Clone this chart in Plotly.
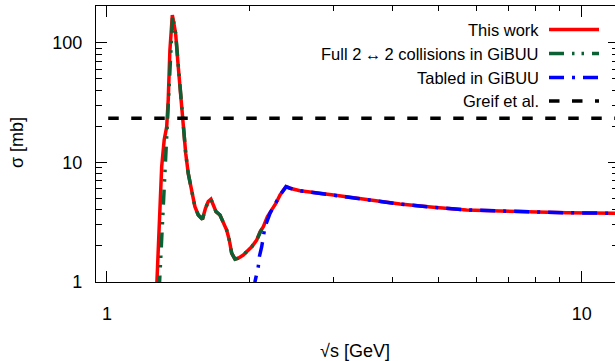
import math
import plotly.graph_objects as go

# ---------------- data ----------------
red_x = [1.272, 1.282, 1.293, 1.304, 1.320, 1.336, 1.346, 1.357, 1.373, 1.395, 1.413, 1.432,
         1.448, 1.465, 1.483, 1.508, 1.532, 1.557, 1.589, 1.612, 1.634, 1.656, 1.675, 1.697,
         1.730, 1.758, 1.787, 1.810, 1.831, 1.861, 1.891, 1.937, 1.985, 2.018, 2.067, 2.101,
         2.135, 2.177, 2.223, 2.270, 2.315, 2.383, 2.430, 2.550, 3.00, 3.525, 4.14, 4.87,
         5.72, 6.73, 7.91, 9.30, 11.75, 12.0]
red_y = [0.85, 1.85, 4.26, 9.19, 15.4, 19.8, 33.2, 86.7, 170, 120, 62.9, 33.2,
         17.5, 11.9, 8.09, 5.87, 4.26, 3.63, 3.34, 4.1, 4.69, 4.91, 4.40, 3.87,
         3.63, 3.09, 2.72, 2.24, 1.74, 1.55, 1.58, 1.68, 1.85, 1.97, 2.24, 2.63,
         2.90, 3.51, 4.0, 4.55, 5.33, 6.26, 6.07, 5.79, 5.33, 4.87, 4.48, 4.21,
         4.0, 3.92, 3.85, 3.79, 3.75, 3.74]

green_x = [1.288, 1.304, 1.314, 1.325, 1.336, 1.346, 1.357, 1.369, 1.375, 1.395, 1.413, 1.432,
           1.448, 1.465, 1.483, 1.508, 1.532, 1.557, 1.589, 1.612, 1.634, 1.656, 1.675, 1.697,
           1.730, 1.758, 1.787, 1.810, 1.831, 1.861, 1.891, 1.937, 1.985, 2.018, 2.067, 2.101,
           2.12]
green_y = [0.85, 2.24, 4.84, 9.19, 14.4, 24.0, 46.0, 120, 168, 120, 62.9, 33.2,
           17.5, 11.9, 8.09, 5.87, 4.26, 3.63, 3.34, 4.1, 4.69, 4.91, 4.40, 3.87,
           3.63, 3.09, 2.72, 2.24, 1.74, 1.55, 1.58, 1.68, 1.85, 1.97, 2.24, 2.63,
           2.77]

blue_x = [2.026, 2.050, 2.083, 2.094, 2.118, 2.152, 2.205, 2.259, 2.315, 2.383, 2.430, 2.550,
          3.00, 3.525, 4.14, 4.87, 5.72, 6.73, 7.91, 9.30, 11.75, 12.0]
blue_y = [0.857, 1.006, 1.342, 1.627, 1.972, 2.897, 3.749, 4.546, 5.33, 6.26, 6.07, 5.79,
          5.33, 4.87, 4.48, 4.21, 4.0, 3.92, 3.85, 3.79, 3.75, 3.74]

greif_x = [0.9, 13.0]
greif_y = [23.3, 23.3]

legend_labels = ["This work", "Full 2\u2009\u2194\u20092 collisions in GiBUU", "Tabled in GiBUU", "Greif et al."]
x_tick_vals = [1, 10]
x_tick_text = ["1", "10"]
y_tick_vals = [1, 10, 100]
y_tick_text = ["1", "10", "100"]

# ---------------- styles ----------------
RED = "#ff0000"
GREEN = "#0b6133"
BLUE = "#0000ff"
BLACK = "#000000"
GREEN_DASH = "15px,8px,2.5px,7px,2.5px,8px"
BLUE_DASH = "15px,8px,3px,8px"
BLACK_DASH = "10.5px,12.5px"
FONT = "Liberation Sans, Arial, Helvetica, sans-serif"
TICK_SIZE = 18
TITLE_SIZE = 18
LEGEND_SIZE = 16.5

x_minor = [v * d for d in (1, 10) for v in range(2, 10)]
y_minor = [v * d for d in (1, 10, 100) for v in range(2, 10) if v * d < 210]

fig = go.Figure()
fig.add_trace(go.Scatter(x=red_x, y=red_y, mode="lines", line=dict(color=RED, width=3.5),
                         showlegend=False))
fig.add_trace(go.Scatter(x=green_x, y=green_y, mode="lines",
                         line=dict(color=GREEN, width=3.5, dash=GREEN_DASH), showlegend=False))
fig.add_trace(go.Scatter(x=blue_x, y=blue_y, mode="lines",
                         line=dict(color=BLUE, width=3.5, dash=BLUE_DASH), showlegend=False))
fig.add_trace(go.Scatter(x=greif_x, y=greif_y, mode="lines", yaxis="y2",
                         line=dict(color=BLACK, width=3.5, dash=BLACK_DASH), showlegend=False))

W, H = 615, 361
L, R, T, B = 96, 0, 6, 79
plot_w = W - L - R
plot_h = H - T - B
x_range = [math.log10(0.9482), math.log10(11.752)]
y_range = [0.0, 2.3058]

fig.update_layout(
    width=W, height=H,
    margin=dict(l=L, r=R, t=T, b=B, pad=0),
    paper_bgcolor="white", plot_bgcolor="white",
    font=dict(family=FONT, size=16, color="black"),
    showlegend=False,
    xaxis=dict(type="log", range=x_range, tickmode="array", tickvals=x_tick_vals,
               ticktext=x_tick_text, ticks="inside", ticklen=11, tickwidth=1, tickcolor="black",
               showline=True, linecolor="black", linewidth=1.2, mirror="ticks",
               showgrid=False, zeroline=False, ticklabelstandoff=15,
               tickfont=dict(family=FONT, size=TICK_SIZE, color="black"),
               minor=dict(tickmode="array", tickvals=x_minor, ticks="inside", ticklen=5,
                          tickwidth=1, tickcolor="black", showgrid=False)),
    yaxis=dict(type="log", range=y_range, tickmode="array", tickvals=y_tick_vals,
               ticktext=y_tick_text, ticks="inside", ticklen=11, tickwidth=1, tickcolor="black",
               showline=True, linecolor="black", linewidth=1.2, mirror=False,
               showgrid=False, zeroline=False, ticklabelstandoff=9,
               tickfont=dict(family=FONT, size=TICK_SIZE, color="black"),
               minor=dict(tickmode="array", tickvals=y_minor, ticks="inside", ticklen=6,
                          tickwidth=1, tickcolor="black", showgrid=False)),
    yaxis2=dict(type="log", range=y_range, overlaying="y", side="right", anchor="x",
                tickmode="array", tickvals=y_tick_vals, showticklabels=False,
                ticks="inside", ticklen=7, tickwidth=1, tickcolor="black",
                showline=False, showgrid=False, zeroline=False,
                minor=dict(tickmode="array", tickvals=y_minor, ticks="inside", ticklen=3,
                           tickwidth=1, tickcolor="black", showgrid=False)),
)

# axis titles
fig.add_annotation(text="\u03c3 [mb]", xref="paper", yref="paper",
                   x=(17 - L) / plot_w, y=(H - B - 143) / plot_h, textangle=-90,
                   showarrow=False, xanchor="center", yanchor="middle",
                   font=dict(family=FONT, size=TITLE_SIZE, color="black"))
fig.add_annotation(text="\u221as [GeV]", xref="paper", yref="paper",
                   x=(355 - L) / plot_w, y=(H - B - 351) / plot_h,
                   showarrow=False, xanchor="center", yanchor="middle",
                   font=dict(family=FONT, size=TITLE_SIZE, color="black"))

# legend (text on the left, sample on the right)
rows_px = [29.5, 53.5, 77.5, 101]
styles = [(RED, "solid"), (GREEN, GREEN_DASH), (BLUE, BLUE_DASH), (BLACK, BLACK_DASH)]
text_right = (541 - L) / plot_w
s0 = (549 - L) / plot_w
s1 = (599 - L) / plot_w
for label, ypx, (col, dash) in zip(legend_labels, rows_px, styles):
    yp = (H - B - ypx) / plot_h
    fig.add_annotation(text=label, xref="paper", yref="paper", x=text_right, y=yp,
                       xanchor="right", yanchor="middle", showarrow=False,
                       font=dict(family=FONT, size=LEGEND_SIZE, color="black"))
    fig.add_shape(type="line", xref="paper", yref="paper", x0=s0, x1=s1, y0=yp, y1=yp,
                  line=dict(color=col, width=3.5, dash=dash))

fig.write_html("out.html", config={"displayModeBar": False},
               post_script="document.body.style.margin='0px';")
